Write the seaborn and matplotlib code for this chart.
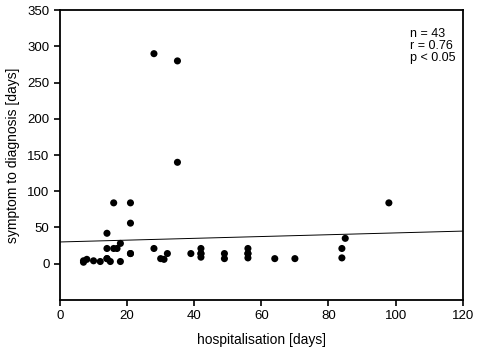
import matplotlib
matplotlib.use("Agg")
import matplotlib.pyplot as plt
import pandas as pd
import seaborn as sns

# hospitalisation [days] vs symptom to diagnosis [days]
hosp = [7, 7, 8, 10, 12, 14, 14, 15, 18, 14, 16, 17, 18, 14, 16, 21, 21, 21, 21,
        28, 30, 31, 32, 35, 39, 28, 35, 42, 42, 42, 42, 49, 49, 56, 56, 56, 56,
        64, 70, 85, 84, 84, 98]
symp = [2, 4, 6, 4, 3, 7, 7, 3, 3, 21, 21, 21, 28, 42, 84, 84, 56, 14, 14,
        21, 7, 6, 14, 140, 14, 290, 280, 21, 14, 14, 9, 14, 7, 21, 14, 14, 8,
        7, 7, 35, 21, 8, 84]

# regression line as drawn
fit_x = [0, 120]
fit_y = [30, 45]

df = pd.DataFrame({'hospitalisation': hosp, 'symptom': symp})
fit = pd.DataFrame({'x': fit_x, 'y': fit_y})

sns.set_style('ticks')
plt.rcParams['font.family'] = ['Liberation Sans', 'DejaVu Sans']
plt.rcParams['text.color'] = 'black'
plt.rcParams['axes.labelcolor'] = 'black'

fig = plt.figure(figsize=(4.78, 3.52), dpi=100)
ax = fig.add_axes([0.1255, 0.148, 0.8425, 0.823])

sns.lineplot(x='x', y='y', data=fit, color='black', linewidth=0.7, ax=ax)
sns.scatterplot(x='hospitalisation', y='symptom', data=df, color='black',
                s=26, edgecolor='none', ax=ax, zorder=3)

ax.set_xlim(0, 120)
ax.set_ylim(-50, 350)
ax.set_xticks(range(0, 121, 20))
ax.set_yticks(range(0, 351, 50))
ax.set_xlabel('hospitalisation [days]', fontsize=10, labelpad=8)
ax.set_ylabel('symptom to diagnosis [days]', fontsize=10, labelpad=5)
ax.tick_params(labelsize=9.5, width=1.2, length=4, color='black', labelcolor='black')
for sp in ax.spines.values():
    sp.set_linewidth(1.3)
    sp.set_color('black')

ax.text(0.869, 0.94, 'n = 43\nr = 0.76\np < 0.05', transform=ax.transAxes,
        fontsize=9, va='top', ha='left', linespacing=1.0)

plt.savefig('out.png', dpi=100)
